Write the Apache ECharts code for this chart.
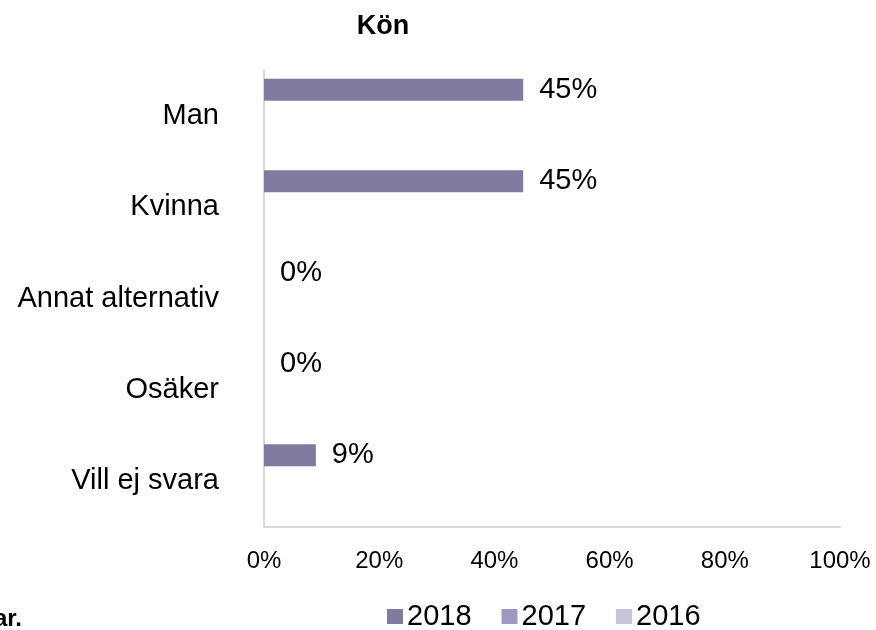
<!DOCTYPE html>
<html>
<head>
<meta charset="utf-8">
<script src="https://cdn.jsdelivr.net/npm/echarts@6/dist/echarts.min.js"></script>
<style>
  html, body { margin: 0; padding: 0; background: #fff; }
  #chart { width: 876px; height: 630px; }
</style>
</head>
<body>
<div id="chart"></div>
<script>
// Gender breakdown by survey year
const categories = ['Man', 'Kvinna', 'Annat alternativ', 'Osäker', 'Vill ej svara'];
const years = ['2018', '2017', '2016'];
const values2018 = [45, 45, 0, 0, 9];
const values2017 = [null, null, null, null, null];
const values2016 = [null, null, null, null, null];
const xTicks = [0, 20, 40, 60, 80, 100];

const colors = ['#807a9e', '#a098c2', '#c9c4dc'];
const FONT = 'Liberation Sans';

const seriesData = [values2018, values2017, values2016];

const chart = echarts.init(document.getElementById('chart'));
chart.setOption({
  animation: false,
  textStyle: { fontFamily: FONT },
  title: {
    text: 'Kön',
    left: 378, top: 8, textAlign: 'center',
    textStyle: { fontFamily: FONT, fontSize: 27, fontWeight: 'bold', color: '#000' }
  },
  grid: { left: 264, right: 36, top: 70, bottom: 103, containLabel: false },
  xAxis: {
    type: 'value', min: xTicks[0], max: xTicks[xTicks.length - 1], interval: 20,
    axisLine: { show: true, lineStyle: { color: '#d9d9d9', width: 2 } },
    axisTick: { show: false },
    splitLine: { show: false },
    axisLabel: { formatter: v => v + '%', color: '#000', fontSize: 24, fontFamily: FONT, margin: 22 }
  },
  yAxis: {
    type: 'category', data: categories, inverse: true,
    axisLine: { show: true, lineStyle: { color: '#d9d9d9', width: 2 } },
    axisTick: { show: false },
    axisLabel: { color: '#000', fontSize: 29, fontFamily: FONT, margin: 45 }
  },
  legend: {
    top: 597, left: 382, itemWidth: 16, itemHeight: 15, itemGap: 30,
    icon: 'rect',
    textStyle: { fontSize: 29, color: '#000', fontFamily: FONT, padding: [0, 0, 0, -1] },
    data: years
  },
  series: years.map((y, i) => ({
    name: y, type: 'bar', data: seriesData[i],
    barWidth: 22, barGap: '18%', barCategoryGap: '20%',
    itemStyle: { color: colors[i] },
    label: {
      show: i === 0, position: 'right', distance: 16,
      formatter: p => p.value + '%', color: '#000', fontSize: 29, fontFamily: FONT
    }
  })),
  graphic: [{
    type: 'text', left: -6, top: 607,
    style: { text: 'ar.', fontFamily: FONT, fontSize: 24, fontWeight: 'bold', fill: '#000' }
  }]
});
</script>
</body>
</html>
